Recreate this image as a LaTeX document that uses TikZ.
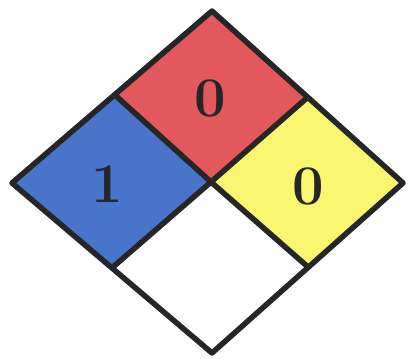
\documentclass[tikz,border=0pt]{standalone}
\usepackage{fontspec}
\definecolor{nfred}{RGB}{226,88,92}
\definecolor{nfblue}{RGB}{72,116,204}
\definecolor{nfyellow}{RGB}{250,246,112}
\begin{document}
\begin{tikzpicture}[x=1pt,y=-1pt,
  edge/.style={draw=black!85,line width=5.5pt,line join=round},
  digit/.style={font=\fontsize{56}{56}\selectfont\bfseries,text=black!85,inner sep=0pt}]
\useasboundingbox (0,0) rectangle (408,359);
\fill[white] (0,0) rectangle (408,359);
\coordinate (T) at (212,11);
\coordinate (L) at (12,183);
\coordinate (R) at (403,183);
\coordinate (B) at (212,353);
\coordinate (C) at (211,182);
\coordinate (TL) at (116,96);
\coordinate (TR) at (308,97);
\coordinate (BL) at (113,267);
\coordinate (BR) at (308,267);
\fill[nfred] (T) -- (TR) -- (C) -- (TL) -- cycle;
\fill[nfblue] (TL) -- (C) -- (BL) -- (L) -- cycle;
\fill[nfyellow] (TR) -- (R) -- (BR) -- (C) -- cycle;
\fill[white] (C) -- (BR) -- (B) -- (BL) -- cycle;
\draw[edge] (T) -- (R) -- (B) -- (L) -- cycle;
\draw[edge] (TL) -- (C) -- (BR);
\draw[edge] (TR) -- (C) -- (BL);
\node[digit] (red) at (210,98) {0};
\node[digit] (blue) at (107,184) {1};
\node[digit] (yellow) at (308,186) {0};
\end{tikzpicture}
\end{document}
